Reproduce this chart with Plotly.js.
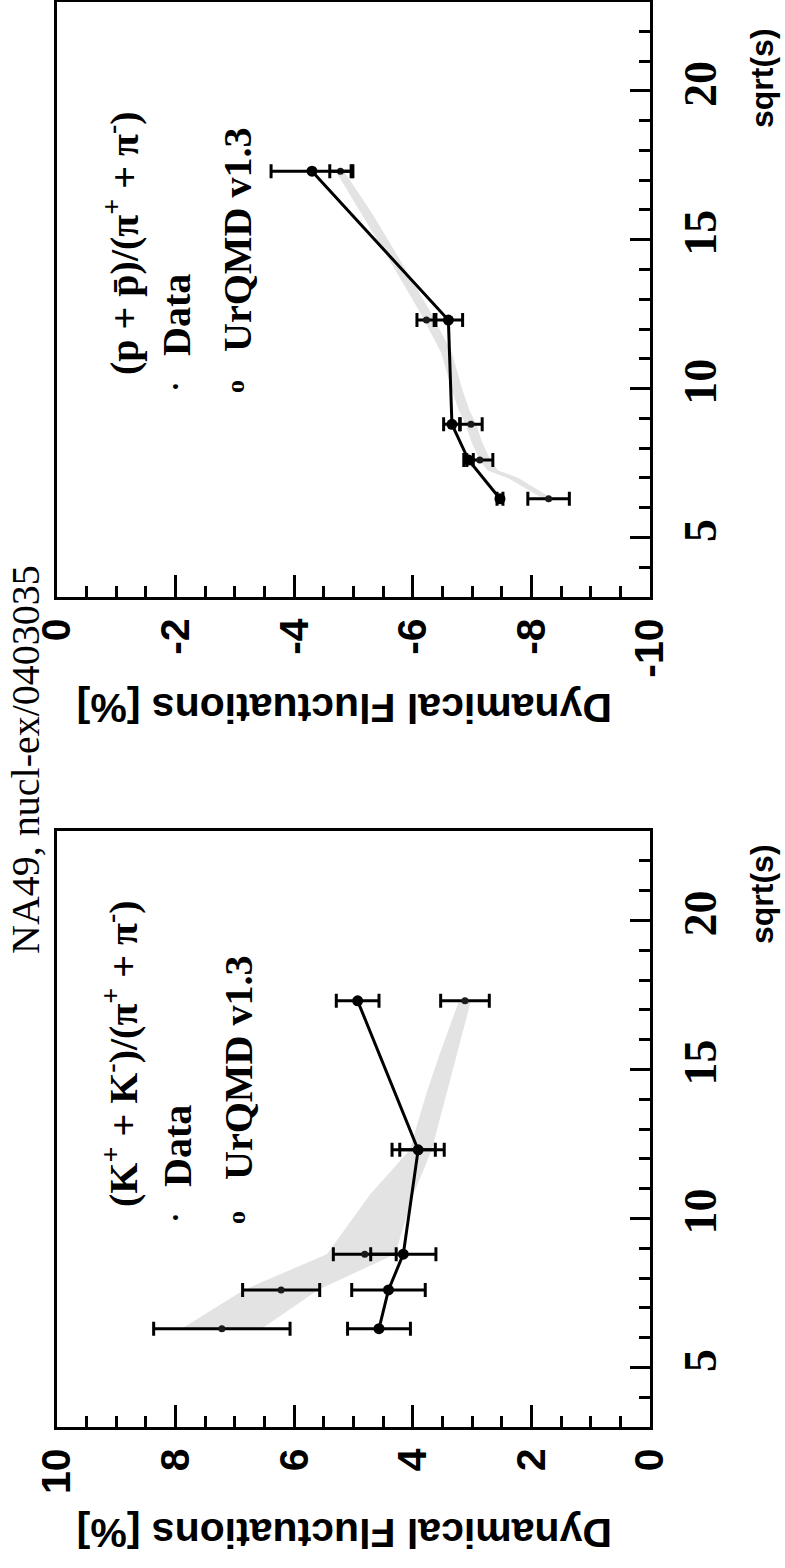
<!DOCTYPE html>
<html>
<head>
<meta charset="utf-8">
<script src="https://cdn.plot.ly/plotly-3.0.1.min.js"></script>
<style>
  html, body { margin: 0; padding: 0; background: #ffffff; }
  #chart { width: 785px; height: 1568px; }
</style>
</head>
<body>
<div id="chart"></div>
<script>
// Beam energies (sqrt(s_NN), GeV)
const energies = [6.3, 7.6, 8.8, 12.3, 17.3];

// (K+ + K-)/(pi+ + pi-) dynamical fluctuations [%]
const kpiData = [7.22, 6.22, 4.81, 3.92, 3.12];
const kpiDataErr = [1.15, 0.65, 0.53, 0.30, 0.41];
const kpiUrqmd = [4.57, 4.41, 4.16, 3.91, 4.93];
const kpiUrqmdErr = [0.53, 0.62, 0.55, 0.44, 0.36];
const kpiBandS = [6.3, 7.6, 8.8, 10.8, 12.3, 14.2, 15.5, 17.3];
const kpiBandHi = [7.9, 6.85, 5.45, 4.72, 4.05, 3.77, 3.55, 3.22];
const kpiBandLo = [6.55, 5.6, 4.3, 3.99, 3.68, 3.43, 3.26, 3.02];

// (p + pbar)/(pi+ + pi-) dynamical fluctuations [%]
const ppiData = [-8.29, -7.13, -6.98, -6.23, -4.78];
const ppiDataErr = [0.35, 0.22, 0.19, 0.16, 0.18];
const ppiUrqmd = [-7.47, -6.94, -6.66, -6.60, -4.30];
const ppiUrqmdErr = [0.05, 0.08, 0.14, 0.24, 0.69];
const ppiBandS = [6.3, 7.0, 7.25, 7.6, 8.2, 8.8, 9.3, 10.0, 11.2, 12.5, 14.3, 15.9, 17.3];
const ppiBandHi = [-8.20, -7.60, -7.26, -7.13, -6.99, -6.89, -6.77, -6.65, -6.48, -6.14, -5.61, -5.13, -4.70];
const ppiBandLo = [-8.36, -7.78, -7.44, -7.31, -7.17, -7.07, -6.95, -6.83, -6.66, -6.32, -5.79, -5.31, -4.84];

// Tick labels
const kpiTickVals = [0, 2, 4, 6, 8, 10];
const kpiTickText = ['0', '2', '4', '6', '8', '10'];
const ppiTickVals = [0, -2, -4, -6, -8, -10];
const ppiTickText = ['0', '-2', '-4', '-6', '-8', '-10'];
const sqrtsTickVals = [5, 10, 15, 20];
const sqrtsTickText = ['5', '10', '15', '20'];

const W = 785, H = 1568;
const px = x => x / W;
const py = y => (H - y) / H;

function band(s, hi, lo, xa, ya) {
  return {
    x: hi.concat(lo.slice().reverse()),
    y: s.concat(s.slice().reverse()),
    xaxis: xa, yaxis: ya,
    mode: 'lines', fill: 'toself', fillcolor: '#e3e3e3',
    line: { width: 0, color: 'rgba(0,0,0,0)' }, hoverinfo: 'skip'
  };
}

function points(vals, errs, xa, ya, isModel) {
  return {
    x: vals, y: energies, xaxis: xa, yaxis: ya,
    mode: isModel ? 'lines+markers' : 'markers',
    line: { color: '#000', width: 3 },
    marker: { size: isModel ? 11 : 7, color: isModel ? '#000' : '#1a1a1a' },
    error_x: { type: 'data', array: errs, visible: true, color: '#000', thickness: 3, width: 7 }
  };
}

const traces = [
  band(kpiBandS, kpiBandHi, kpiBandLo, 'x', 'y'),
  points(kpiData, kpiDataErr, 'x', 'y', false),
  points(kpiUrqmd, kpiUrqmdErr, 'x', 'y', true),
  band(ppiBandS, ppiBandHi, ppiBandLo, 'x2', 'y2'),
  points(ppiData, ppiDataErr, 'x2', 'y2', false),
  points(ppiUrqmd, ppiUrqmdErr, 'x2', 'y2', true)
];

function valueAxis(range, vals, text, anchor) {
  return {
    domain: [px(57), px(650)], range: range, anchor: anchor,
    tickmode: 'array', tickvals: vals, ticktext: text,
    ticks: 'inside', ticklen: 22, tickwidth: 3, tickcolor: '#000',
    showline: true, linewidth: 3, linecolor: '#000', mirror: true,
    showgrid: false, zeroline: false, tickangle: -90, ticklabelstandoff: 2,
    tickfont: { family: 'Liberation Sans', size: 41, color: '#000', weight: 'bold' },
    minor: { tickmode: 'linear', tick0: 0, dtick: 0.5, ticks: 'inside', ticklen: 11,
             tickwidth: 3, tickcolor: '#000', showgrid: false }
  };
}

function energyAxis(domain, anchor) {
  return {
    domain: domain, range: [3, 23], anchor: anchor, side: 'right',
    tickmode: 'array', tickvals: sqrtsTickVals, ticktext: sqrtsTickText,
    ticks: 'inside', ticklen: 20, tickwidth: 3, tickcolor: '#000',
    showline: true, linewidth: 3, linecolor: '#000', mirror: true,
    showgrid: false, zeroline: false, tickangle: -90, ticklabelstandoff: 8,
    tickfont: { family: 'Liberation Serif', size: 46, color: '#000', weight: 'bold' },
    minor: { tickmode: 'linear', tick0: 0, dtick: 1, ticks: 'inside', ticklen: 11,
             tickwidth: 3, tickcolor: '#000', showgrid: false }
  };
}

function note(text, x, y, angle, font) {
  return { text: text, x: px(x), y: py(y), xref: 'paper', yref: 'paper',
           xanchor: 'center', yanchor: 'middle', textangle: angle,
           showarrow: false, font: font };
}

const serifBold = { family: 'Liberation Serif', size: 40, color: '#000', weight: 'bold' };
const sansTitle = { family: 'Liberation Sans', size: 41, color: '#000', weight: 'bold' };
const sansAxis = { family: 'Liberation Sans', size: 32, color: '#000', weight: 'bold' };

const annotations = [
  note('NA49, nucl-ex/0403035', 25, 760, -90, { family: 'Liberation Serif', size: 40, color: '#000' }),
  // lower panel (kaons)
  note('Dynamical Fluctuations [%]', 345, 1533, 180, sansTitle),
  note('sqrt(s)', 762, 894, -90, sansAxis),
  note('(K<sup>+</sup> + K<sup>-</sup>)/(π<sup>+</sup> + π<sup>-</sup>)', 120, 1054, -90, serifBold),
  note('•', 176, 1218, -90, { family: 'Liberation Serif', size: 20, color: '#000' }),
  note('Data', 177, 1146, -90, serifBold),
  note('o', 236, 1218, -90, { family: 'Liberation Serif', size: 26, color: '#000', weight: 'bold' }),
  note('UrQMD v1.3', 238, 1068, -90, serifBold),
  // upper panel (protons)
  note('Dynamical Fluctuations [%]', 345, 708, 180, sansTitle),
  note('sqrt(s)', 762, 78, -90, sansAxis),
  note('(p + p̄)/(π<sup>+</sup> + π<sup>-</sup>)', 122, 243, -90, serifBold),
  note('•', 176, 387, -90, { family: 'Liberation Serif', size: 20, color: '#000' }),
  note('Data', 177, 315, -90, serifBold),
  note('o', 236, 387, -90, { family: 'Liberation Serif', size: 26, color: '#000', weight: 'bold' }),
  note('UrQMD v1.3', 238, 240, -90, serifBold)
];

const layout = {
  width: W, height: H, autosize: false,
  margin: { l: 0, r: 0, t: 0, b: 0, pad: 0 },
  paper_bgcolor: '#fff', plot_bgcolor: '#fff',
  showlegend: false,
  xaxis: valueAxis([10, 0], kpiTickVals, kpiTickText, 'y'),
  yaxis: energyAxis([py(1427), py(831)], 'x'),
  xaxis2: valueAxis([0, -10], ppiTickVals, ppiTickText, 'y2'),
  yaxis2: energyAxis([py(597), py(1.5)], 'x2'),
  annotations: annotations
};

Plotly.newPlot('chart', traces, layout, { staticPlot: true, displayModeBar: false });
</script>
</body>
</html>
